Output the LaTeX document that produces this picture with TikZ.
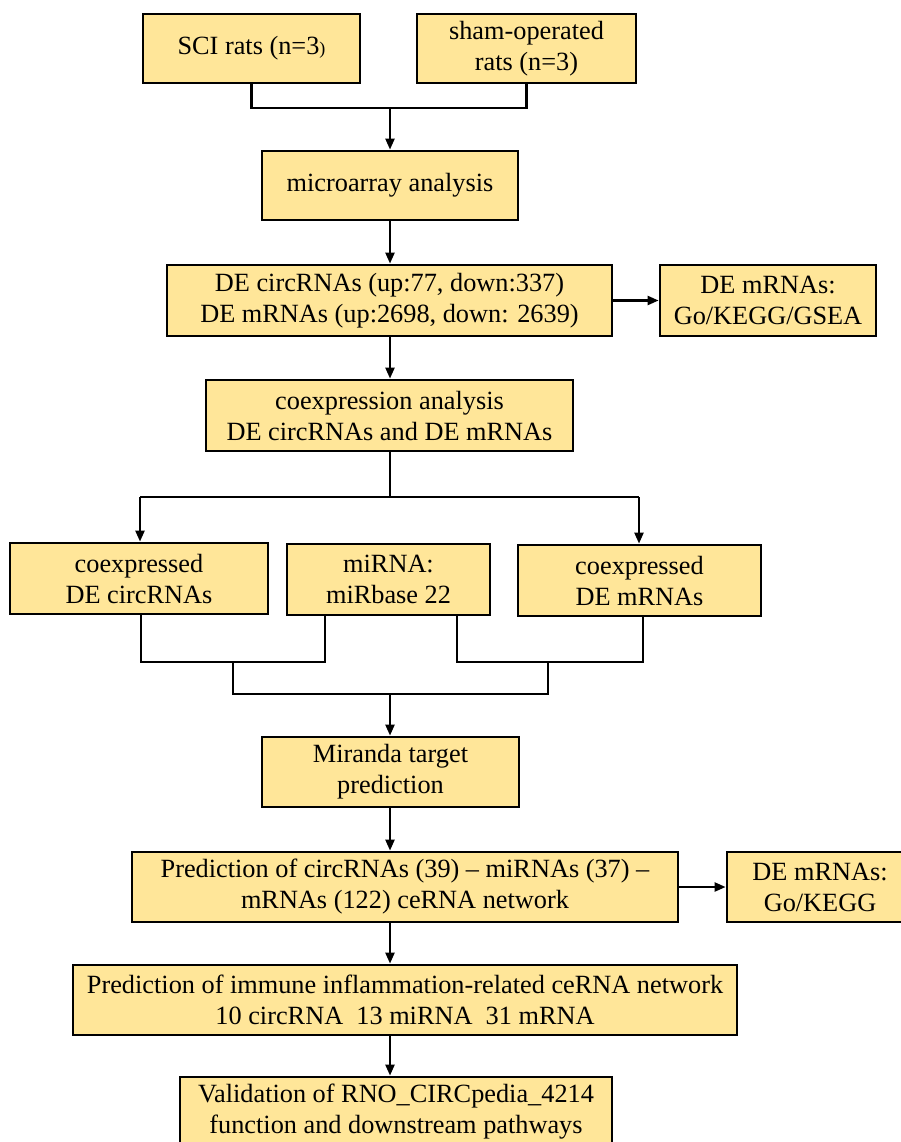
\documentclass[tikz,border=0pt]{standalone}
\usepackage{fontspec}
\setmainfont{Liberation Serif}
\usetikzlibrary{arrows.meta}
\definecolor{boxfill}{HTML}{FFE699}
\begin{document}
\begin{tikzpicture}[x=1pt,y=-1pt,
  box/.style={draw=black, line width=2.8pt, fill=boxfill, inner sep=0pt, align=center,
    font=\fontsize{26.3}{31}\selectfont},
  conn/.style={line width=2.3pt},
  arr/.style={conn,-{Triangle[length=11pt,width=9pt]}}]
\useasboundingbox (0,0) rectangle (901,1142);
\clip (0,0) rectangle (901,1142);
\fill[white] (0,0) rectangle (901,1142);

% boxes
\node[box, minimum width=217pt, minimum height=69pt] (sci) at (251.5,48.5) {SCI rats (n=3{\fontsize{18}{20}\selectfont )}};
\node[box, minimum width=219pt, minimum height=69pt] (sham) at (526.5,48.5) {sham-operated\\rats (n=3)};
\node[box, minimum width=256pt, minimum height=69pt] (micro) at (390,185.5) {microarray analysis};
\node[box, minimum width=445pt, minimum height=71pt] (de) at (389.5,300.5) {DE circRNAs (up:77, down:337)\\DE mRNAs (up:2698, down: 2639)};
\node[box, minimum width=216pt, minimum height=71pt] (gsea) at (768,300.5) {DE mRNAs:\\Go/KEGG/GSEA};
\node[box, minimum width=367pt, minimum height=71pt] (coex) at (389.5,415.5) {coexpression analysis\\DE circRNAs and DE mRNAs};
\node[box, minimum width=258pt, minimum height=71pt] (circ) at (139,578.5) {coexpressed\\DE circRNAs};
\node[box, minimum width=203pt, minimum height=71pt] (mirna) at (388.5,579.5) {miRNA:\\miRbase 22};
\node[box, minimum width=243pt, minimum height=71pt] (mrna) at (639.5,580.5) {coexpressed\\DE mRNAs};
\node[box, minimum width=257pt, minimum height=70pt] (miranda) at (390.5,772) {Miranda target\\prediction};
\node[box, minimum width=546pt, minimum height=70pt] (pred) at (405,887) {Prediction of circRNAs (39) -- miRNAs (37) --\\mRNAs (122) ceRNA network};
\node[box, minimum width=186pt, minimum height=70pt] (kegg) at (820,887) {DE mRNAs:\\Go/KEGG};
\node[box, minimum width=664pt, minimum height=70pt] (immune) at (405,1000) {Prediction of immune inflammation-related ceRNA network\\10 circRNA\ \ 13 miRNA\ \ 31 mRNA};
\node[box, minimum width=432pt, minimum height=70pt] (valid) at (396,1112) {Validation of RNO\_CIRCpedia\_4214\\function and downstream pathways};

\coordinate (ax) at (390,0);

% top merge
\coordinate (j1) at (390,108);
\draw[conn] (sci.south) |- (j1) -| (sham.south);
\draw[arr] (j1) -- (j1 |- micro.north);
\draw[arr] (ax |- micro.south) -- (ax |- de.north);
\draw[arr] (de.east) -- (gsea.west);
\draw[arr] (ax |- de.south) -- (ax |- coex.north);

% split
\coordinate (j2) at (390,497);
\coordinate (j2l) at (140,497);
\coordinate (j2r) at (639,497);
\draw[conn] (j2 |- coex.south) -- (j2);
\draw[conn] (j2l) -- (j2r);
\draw[arr] (j2l) -- (j2l |- circ.north);
\draw[arr] (j2r) -- (j2r |- mrna.north);

% merges
\coordinate (a1) at (141,662);
\coordinate (a2) at (325,662);
\coordinate (b1) at (457,662);
\coordinate (b2) at (643,662);
\draw[conn] (a1 |- circ.south) -- (a1) -- (a2) -- (a2 |- mirna.south);
\draw[conn] (b1 |- mirna.south) -- (b1) -- (b2) -- (b2 |- mrna.south);
\coordinate (m1) at (233,662);
\coordinate (m2) at (548,662);
\coordinate (m3) at (390,694);
\draw[conn] (m1) |- (m3) -| (m2);
\draw[arr] (m3) -- (m3 |- miranda.north);

% lower chain
\draw[arr] (ax |- miranda.south) -- (ax |- pred.north);
\draw[arr] (pred.east) -- (kegg.west);
\draw[arr] (ax |- pred.south) -- (ax |- immune.north);
\draw[arr] (ax |- immune.south) -- (ax |- valid.north);
\end{tikzpicture}
\end{document}
